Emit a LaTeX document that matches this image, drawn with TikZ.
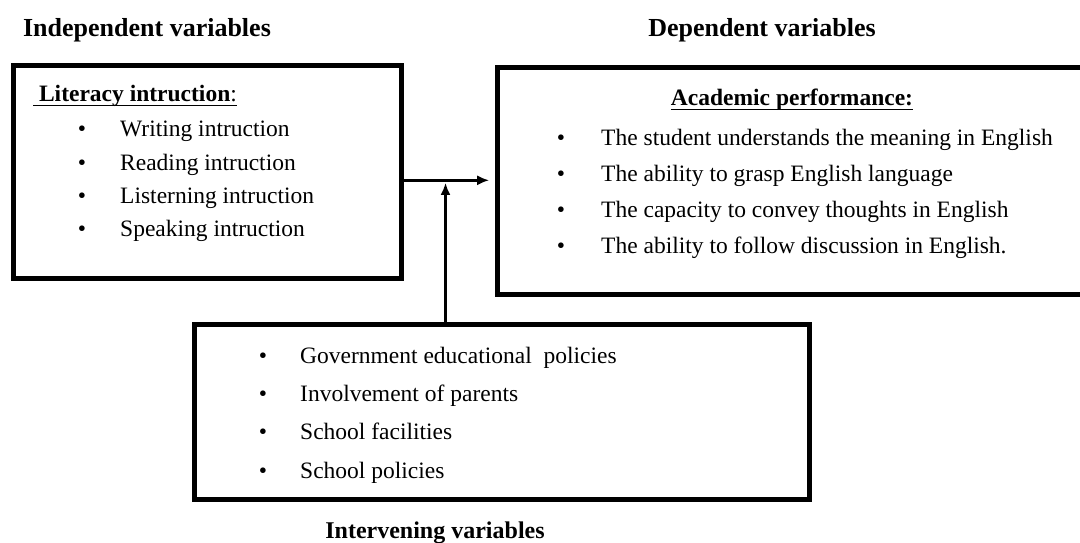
\documentclass[tikz,border=0pt]{standalone}
\usepackage{fontspec}
\setmainfont{LiberationSerif}[
    Extension=.ttf,
    UprightFont=*-Regular,
    BoldFont=*-Bold,
    ItalicFont=*-Italic,
    BoldItalicFont=*-BoldItalic]
\usetikzlibrary{arrows.meta}

% underline at a fixed depth below the baseline
\newsavebox\ulinebox
\newcommand\ulined[1]{\sbox\ulinebox{#1}\rlap{\rule[-4.5pt]{\wd\ulinebox}{1.3pt}}\usebox\ulinebox}

\tikzset{
    varbox/.style={draw, line width=5pt, rectangle, inner sep=0pt},
    varlabel/.style={font=\fontsize{26}{30}\selectfont\bfseries, anchor=base, inner sep=0pt},
    entry/.style={font=\fontsize{23.5}{28}\selectfont, anchor=base west, inner sep=0pt},
    bul/.style={font=\fontsize{23.5}{28}\selectfont, anchor=base, inner sep=0pt},
    arr/.style={line width=2.5pt, -{Latex[length=12pt,width=10pt]}},
}

\begin{document}
\begin{tikzpicture}[x=1pt, y=-1pt]
            \clip (0,0) rectangle (1080,543);
            % headings
            \node[varlabel] (indeplabel) at (147,37) {Independent variables};
            \node[varlabel] (deplabel) at (762,37) {Dependent variables};
            \node[varlabel, font=\fontsize{24}{28}\selectfont\bfseries] (intlabel) at (435,538) {Intervening variables};
            % boxes
            \node[varbox, minimum width=388.5pt, minimum height=212.5pt] (indep) at (207.25,171.75) {};
            \node[varbox, minimum width=593pt, minimum height=226pt] (dep) at (793.5,181) {};
            \node[varbox, minimum width=615pt, minimum height=174.5pt] (interv) at (501.5,411.75) {};
            % literacy instruction (baseline/text)
            \node[entry] (indephead) at (33,102) {\ulined{\textbf{\ Literacy intruction}:}};
            \foreach \y/\txt [count=\i] in {
            136.5/Writing intruction,
            170/Reading intruction,
            203/Listerning intruction,
            236.5/Speaking intruction}
            {
            \node[bul] (indepdot\i) at (82,\y) {•};
            \node[entry] (indepitem\i) at (120,\y) {\txt};
            }
            % academic performance
            \node[entry, anchor=base] (dephead) at (792,106) {\ulined{\textbf{Academic performance:}}};
            \foreach \y/\txt [count=\i] in {
            145/The student understands the meaning in English,
            181.5/The ability to grasp English language,
            217/The capacity to convey thoughts in English,
            253/The ability to follow discussion in English.}
            {
            \node[bul] (depdot\i) at (561,\y) {•};
            \node[entry] (depitem\i) at (601,\y) {\txt};
            }
            % intervening factors
            \foreach \y/\txt [count=\i] in {
            363/Government educational~ policies,
            401.5/Involvement of parents,
            439.5/School facilities,
            478.5/School policies}
            {
            \node[bul] (intdot\i) at (263,\y) {•};
            \node[entry] (intitem\i) at (300,\y) {\txt};
            }
            % arrows
            \coordinate (join) at (445.5,180.3);
            \draw[arr, shorten >=5.3pt] (indep.east |- join) -- (dep.west |- join);
            \draw[arr, shorten >=2.5pt] (interv.north -| join) -- (join);
        \end{tikzpicture}
\end{document}
